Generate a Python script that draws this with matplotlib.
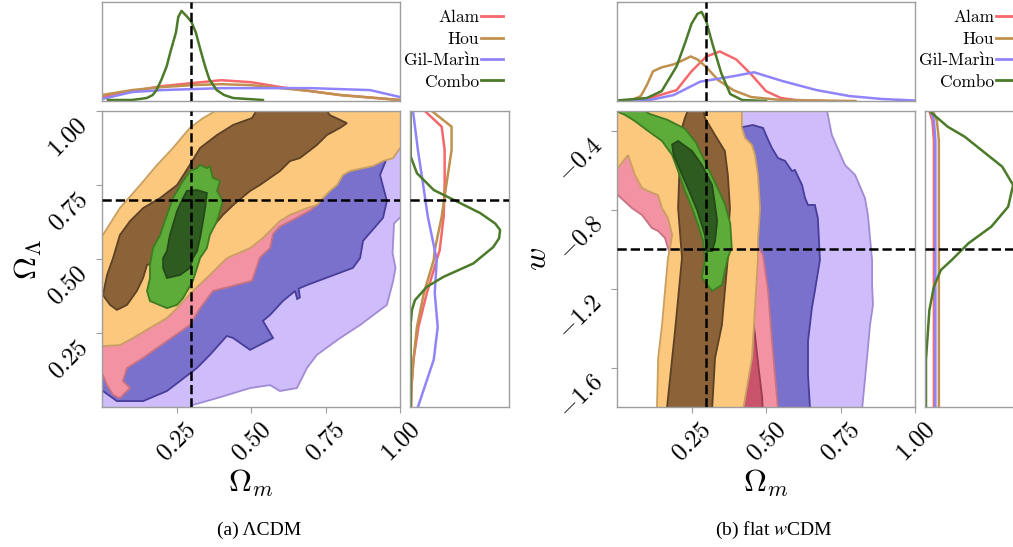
import matplotlib.pyplot as plt
from matplotlib.lines import Line2D
from matplotlib.transforms import ScaledTranslation

plt.rcParams['mathtext.fontset'] = 'cm'

# series order: Alam, Hou, Gil-Marin, Combo
names = ['Alam', 'Hou', 'Gil-Marìn', 'Combo']
line_colors = ['#f5686c', '#c0904f', '#8f84fb', '#4b7a29']
outer_fill = ['#f292a3', '#fbc87d', '#cfbcfa', '#5dab39']
outer_edge = ['#c87282', '#c9a062', '#a18bd6', '#3e7c22']
inner_fill = ['#c9546b', '#8c6239', '#7a71cc', '#2e5b1f']
inner_edge = ['#9b3b4f', '#5d4124', '#473d9b', '#24481a']

# ---------------- (a) LCDM : marginals ----------------
a_top_x = [0.0, 0.1, 0.2, 0.3, 0.4, 0.5, 0.6, 0.7, 0.8, 0.9, 1.0]
a_top_alam = [0.04, 0.10, 0.15, 0.18, 0.21, 0.19, 0.14, 0.10, 0.06, 0.035, 0.01]
a_top_hou = [0.06, 0.11, 0.14, 0.16, 0.17, 0.16, 0.13, 0.10, 0.06, 0.035, 0.01]
a_top_gil = [0.02, 0.09, 0.11, 0.12, 0.13, 0.13, 0.13, 0.13, 0.12, 0.11, 0.04]
a_top_combo_x = [0.02, 0.10, 0.15, 0.17, 0.183, 0.20, 0.217, 0.23, 0.248, 0.256, 0.267,
                 0.286, 0.30, 0.315, 0.33, 0.346, 0.36, 0.385, 0.41, 0.44, 0.54]
a_top_combo = [0.01, 0.01, 0.03, 0.06, 0.11, 0.22, 0.35, 0.50, 0.69, 0.85, 0.91,
               0.85, 0.80, 0.69, 0.52, 0.35, 0.22, 0.11, 0.06, 0.03, 0.01]

a_right_y = [1.0, 0.947, 0.868, 0.757, 0.643, 0.53, 0.497, 0.385, 0.27, 0.16, 0.07, 0.0]
a_right_alam = [0.15, 0.32, 0.35, 0.35, 0.34, 0.30, 0.27, 0.17, 0.085, 0.035, 0.015, 0.01]
a_right_hou = [0.22, 0.42, 0.42, 0.37, 0.32, 0.25, 0.24, 0.14, 0.07, 0.035, 0.015, 0.01]
a_right_gil = [0.03, 0.05, 0.08, 0.13, 0.18, 0.25, 0.27, 0.25, 0.28, 0.24, 0.15, 0.08]
a_right_combo_y = [1.0, 0.846, 0.79, 0.733, 0.70, 0.655, 0.62, 0.598, 0.57, 0.54, 0.485,
                   0.44, 0.406, 0.361, 0.328, 0.28, 0.0]
a_right_combo = [0.005, 0.007, 0.07, 0.24, 0.44, 0.71, 0.86, 0.91, 0.90, 0.84, 0.64,
                 0.34, 0.17, 0.05, 0.02, 0.007, 0.007]

# ---------------- (a) LCDM : contours (Omega_m, Omega_L) ----------------
a_gil_outer = [(1.02, 0.90), (1.02, 0.66), (0.98, 0.62), (0.975, 0.52), (0.985, 0.47),
               (0.977, 0.426), (0.956, 0.345), (0.866, 0.277), (0.799, 0.233), (0.721, 0.176),
               (0.688, 0.132), (0.654, 0.064), (0.597, 0.054), (0.564, 0.074), (0.497, 0.064),
               (0.386, 0.030), (0.305, 0.007), (0.25, -0.05), (-0.05, -0.05), (-0.05, 0.15),
               (0.3, 0.40), (0.6, 0.65)]
a_gil_inner = [(0.956, 0.841), (0.933, 0.784), (0.956, 0.696), (0.943, 0.639), (0.876, 0.561),
               (0.866, 0.503), (0.842, 0.470), (0.688, 0.412), (0.66, 0.40), (0.664, 0.37),
               (0.655, 0.365), (0.648, 0.392), (0.607, 0.358), (0.564, 0.311), (0.540, 0.291),
               (0.574, 0.233), (0.497, 0.193), (0.440, 0.233), (0.419, 0.240), (0.362, 0.176),
               (0.319, 0.132), (0.262, 0.088), (0.218, 0.054), (0.138, 0.020), (0.050, 0.020),
               (0.003, 0.054), (-0.05, 0.08), (-0.05, 0.2), (0.3, 0.45), (0.6, 0.68), (0.9, 0.86)]
a_alam_outer = [(0.74, 0.70), (0.70, 0.665), (0.64, 0.632), (0.597, 0.61), (0.574, 0.585),
                (0.564, 0.537), (0.530, 0.505), (0.503, 0.426), (0.372, 0.392), (0.329, 0.334),
                (0.295, 0.277), (0.218, 0.223), (0.138, 0.166), (0.084, 0.132), (0.070, 0.088),
                (0.094, 0.064), (0.060, 0.030), (0.037, 0.041), (0.017, 0.074), (0.003, 0.108),
                (-0.05, 0.12), (-0.05, 0.35), (0.2, 0.5), (0.5, 0.7), (0.75, 0.78)]
a_hou_outer = [(-0.05, 0.58), (0.003, 0.581), (0.060, 0.672), (0.128, 0.750), (0.185, 0.818),
               (0.238, 0.875), (0.295, 0.943), (0.339, 0.976), (0.38, 1.0), (0.40, 1.05),
               (1.05, 1.05), (1.05, 0.88), (1.0, 0.875), (0.977, 0.841), (0.943, 0.831),
               (0.909, 0.814), (0.876, 0.807), (0.832, 0.797), (0.809, 0.784), (0.789, 0.750),
               (0.765, 0.730), (0.742, 0.706), (0.721, 0.682), (0.688, 0.672), (0.631, 0.649),
               (0.597, 0.628), (0.574, 0.605), (0.540, 0.571), (0.497, 0.537), (0.419, 0.503),
               (0.362, 0.446), (0.305, 0.392), (0.252, 0.334), (0.218, 0.301), (0.161, 0.267),
               (0.104, 0.233), (0.060, 0.209), (0.003, 0.206), (-0.05, 0.2)]
a_hou_inner = [(0.53, 1.02), (0.74, 1.02), (0.765, 0.986), (0.822, 0.959), (0.799, 0.943),
               (0.755, 0.919), (0.721, 0.885), (0.664, 0.841), (0.631, 0.831), (0.597, 0.797),
               (0.564, 0.774), (0.530, 0.750), (0.497, 0.730), (0.440, 0.682), (0.406, 0.649),
               (0.33, 0.56), (0.22, 0.50), (0.151, 0.480), (0.138, 0.436), (0.117, 0.392),
               (0.084, 0.345), (0.050, 0.328), (0.027, 0.345), (0.003, 0.378), (0.017, 0.446),
               (0.037, 0.503), (0.060, 0.581), (0.094, 0.628), (0.138, 0.672), (0.195, 0.706),
               (0.252, 0.750), (0.295, 0.818), (0.329, 0.875), (0.386, 0.919), (0.440, 0.953),
               (0.503, 0.976)]
a_combo_outer = [(0.319, 0.807), (0.329, 0.818), (0.352, 0.807), (0.362, 0.814), (0.372, 0.774),
                 (0.396, 0.764), (0.386, 0.730), (0.406, 0.696), (0.396, 0.662), (0.386, 0.628),
                 (0.362, 0.581), (0.352, 0.537), (0.329, 0.503), (0.319, 0.470), (0.305, 0.426),
                 (0.272, 0.368), (0.252, 0.345), (0.218, 0.334), (0.161, 0.358), (0.151, 0.392),
                 (0.161, 0.436), (0.161, 0.480), (0.171, 0.537), (0.195, 0.581), (0.218, 0.649),
                 (0.238, 0.706), (0.272, 0.764), (0.295, 0.797)]
a_combo_inner = [(0.285, 0.730), (0.319, 0.733), (0.352, 0.723), (0.346, 0.672), (0.339, 0.628),
                 (0.329, 0.571), (0.319, 0.527), (0.305, 0.503), (0.295, 0.470), (0.262, 0.446),
                 (0.218, 0.436), (0.205, 0.470), (0.205, 0.503), (0.218, 0.527), (0.228, 0.581),
                 (0.252, 0.662), (0.272, 0.706)]

# ---------------- (b) flat wCDM : marginals ----------------
b_top_alam_x = [0.0, 0.1, 0.2, 0.25, 0.3, 0.345, 0.4, 0.45, 0.5, 0.55, 0.6, 0.7]
b_top_alam = [0.0, 0.02, 0.11, 0.30, 0.45, 0.50, 0.42, 0.27, 0.10, 0.03, 0.01, 0.0]
b_top_hou_x = [0.0, 0.05, 0.08, 0.10, 0.121, 0.15, 0.19, 0.22, 0.247, 0.27, 0.297,
               0.34, 0.39, 0.45, 0.55, 0.8]
b_top_hou = [0.0, 0.01, 0.05, 0.16, 0.30, 0.34, 0.37, 0.41, 0.45, 0.42, 0.35,
             0.21, 0.11, 0.04, 0.01, 0.0]
b_top_gil_x = [0.0, 0.11, 0.19, 0.279, 0.39, 0.46, 0.557, 0.67, 0.78, 0.89, 1.0]
b_top_gil = [0.0, 0.01, 0.06, 0.195, 0.25, 0.29, 0.20, 0.11, 0.05, 0.02, 0.005]
b_top_combo_x = [0.0, 0.1, 0.15, 0.2, 0.23, 0.25, 0.27, 0.284, 0.3, 0.32, 0.35, 0.38, 0.42, 0.5]
b_top_combo = [0.005, 0.03, 0.10, 0.35, 0.60, 0.78, 0.88, 0.90, 0.80, 0.58, 0.28, 0.07, 0.01, 0.0]

b_right_w = [-0.3, -0.35, -0.45, -1.8]
b_right_alam = [0.045, 0.075, 0.09, 0.09]
b_right_hou = [0.08, 0.12, 0.14, 0.14]
b_right_gil = [0.06, 0.09, 0.105, 0.105]
b_right_combo_w = [-0.3, -0.38, -0.43, -0.498, -0.582, -0.675, -0.785, -0.886, -0.97,
                   -1.055, -1.106, -1.19, -1.31, -1.56, -1.8]
b_right_combo = [0.044, 0.23, 0.40, 0.57, 0.78, 0.89, 0.84, 0.67, 0.44,
                 0.27, 0.16, 0.09, 0.044, 0.01, 0.01]

# ---------------- (b) flat wCDM : contours (Omega_m, w) ----------------
b_gil_outer = [(0.40, -0.25), (0.705, -0.25), (0.705, -0.30), (0.721, -0.422), (0.765, -0.574),
               (0.799, -0.624), (0.832, -0.741), (0.842, -0.827), (0.856, -1.055), (0.856, -1.182),
               (0.859, -1.283), (0.849, -1.385), (0.839, -1.552), (0.826, -1.755), (0.822, -1.815),
               (0.82, -1.9), (0.45, -1.9)]
b_gil_inner = [(0.40, -0.40), (0.423, -0.381), (0.456, -0.371), (0.490, -0.386), (0.503, -0.432),
               (0.520, -0.488), (0.540, -0.538), (0.564, -0.553), (0.587, -0.604), (0.597, -0.599),
               (0.621, -0.675), (0.631, -0.741), (0.641, -0.776), (0.664, -0.776), (0.674, -0.842),
               (0.681, -1.055), (0.664, -1.212), (0.654, -1.298), (0.641, -1.466), (0.641, -1.638),
               (0.648, -1.815), (0.648, -1.9), (0.44, -1.9)]
b_alam_outer = [(-0.05, -0.25), (0.2, -0.25), (0.42, -0.7), (0.47, -0.98), (0.490, -1.030),
                (0.507, -1.212), (0.520, -1.466), (0.540, -1.805), (0.54, -1.9), (0.3, -1.9),
                (0.2, -1.1), (0.171, -0.994), (0.161, -0.944), (0.138, -0.908), (0.117, -0.893),
                (0.084, -0.827), (0.050, -0.792), (0.003, -0.726), (-0.05, -0.70)]
b_alam_inner = [(0.25, -0.8), (0.35, -0.9), (0.44, -1.2), (0.462, -1.42), (0.475, -1.6),
                (0.487, -1.75), (0.492, -1.9), (0.30, -1.9)]
b_hou_outer = [(-0.05, -0.25), (0.419, -0.25), (0.419, -0.386), (0.430, -0.437), (0.453, -0.472),
               (0.463, -0.523), (0.473, -0.624), (0.480, -0.792), (0.473, -0.959), (0.473, -1.045),
               (0.463, -1.298), (0.453, -1.552), (0.423, -1.815), (0.42, -1.9), (0.134, -1.9),
               (0.134, -1.815), (0.138, -1.552), (0.151, -1.385), (0.161, -1.212), (0.171, -1.045),
               (0.178, -0.994), (0.185, -0.928), (0.171, -0.842), (0.151, -0.792), (0.138, -0.726),
               (0.104, -0.705), (0.084, -0.690), (0.060, -0.624), (0.037, -0.523), (0.003, -0.589),
               (-0.05, -0.59)]
b_hou_inner = [(0.228, -0.335), (0.25, -0.25), (0.285, -0.25), (0.295, -0.335), (0.329, -0.422),
               (0.362, -0.503), (0.372, -0.624), (0.379, -0.792), (0.372, -0.959), (0.372, -1.045),
               (0.362, -1.212), (0.352, -1.385), (0.329, -1.552), (0.319, -1.815), (0.319, -1.9),
               (0.168, -1.9), (0.168, -1.800), (0.195, -1.410), (0.218, -1.045), (0.205, -0.792),
               (0.211, -0.538), (0.218, -0.386)]
b_combo_outer = [(-0.05, -0.27), (0.027, -0.320), (0.060, -0.351), (0.104, -0.401), (0.151, -0.452),
                 (0.185, -0.523), (0.205, -0.604), (0.228, -0.705), (0.252, -0.792), (0.272, -0.878),
                 (0.289, -0.959), (0.295, -1.055), (0.285, -1.146), (0.319, -1.212), (0.352, -1.182),
                 (0.362, -1.111), (0.372, -1.045), (0.385, -0.99), (0.38, -0.87), (0.362, -0.77),
                 (0.33, -0.665), (0.298, -0.565), (0.265, -0.46), (0.228, -0.39), (0.17, -0.345),
                 (0.11, -0.315), (0.06, -0.27)]
b_combo_inner = [(0.185, -0.47), (0.205, -0.452), (0.252, -0.503), (0.285, -0.574), (0.319, -0.675),
                 (0.329, -0.776), (0.336, -0.857), (0.329, -0.959), (0.319, -1.010), (0.302, -1.010),
                 (0.295, -0.928), (0.27, -0.807), (0.242, -0.705), (0.213, -0.604), (0.19, -0.523)]

tick_x = [0.25, 0.50, 0.75, 1.00]
tick_x_labels = ['$0.25$', '$0.50$', '$0.75$', '$1.00$']
a_tick_y = [0.25, 0.50, 0.75, 1.00]
a_tick_y_labels = ['$0.25$', '$0.50$', '$0.75$', '$1.00$']
b_tick_y = [-0.4, -0.8, -1.2, -1.6]
b_tick_y_labels = ['$-0.4$', '$-0.8$', '$-1.2$', '$-1.6$']

W, H = 1013, 547
fig = plt.figure(figsize=(W / 100, H / 100), dpi=100)
spine_col = '#9e9e9e'


def add_ax(x0, y0, x1, y1):
    ax = fig.add_axes([x0 / W, 1 - y1 / H, (x1 - x0) / W, (y1 - y0) / H])
    for s in ax.spines.values():
        s.set_color(spine_col)
        s.set_linewidth(1.0)
    return ax


def draw_panel(x0, tops, rights, contours, ylim, yticks, ylabels, ylabel, ylab_x,
               fid, caption, leg_x):
    ax_t = add_ax(x0, 2, x0 + 298, 101)
    ax = add_ax(x0, 111, x0 + 298, 407)
    ax_r = add_ax(x0 + 308, 111, x0 + 407, 407)

    # filled contours, drawing order Gil-Marin, Alam, Hou, Combo
    for i in [2, 0, 1, 3]:
        outer, inner = contours[i]
        xs, ys = zip(*outer)
        ax.fill(xs, ys, facecolor=outer_fill[i], edgecolor=outer_edge[i], lw=1.3)
        if inner is not None:
            xs, ys = zip(*inner)
            ax.fill(xs, ys, facecolor=inner_fill[i], edgecolor=inner_edge[i], lw=1.3)

    for i in [0, 1, 2, 3]:
        xs, ys = tops[i]
        ax_t.plot(xs, ys, color=line_colors[i], lw=1.8)
        vs, ws = rights[i]
        ax_r.plot(vs, ws, color=line_colors[i], lw=1.8)

    for a in (ax_t, ax):
        a.axvline(fid[0], color='k', ls='--', lw=1.8, zorder=5)
    for a in (ax, ax_r):
        a.axhline(fid[1], color='k', ls='--', lw=1.8, zorder=5)

    ax.set_xlim(0, 1)
    ax.set_ylim(*ylim)
    ax_t.set_xlim(0, 1)
    ax_t.set_ylim(0, 1)
    ax_r.set_xlim(0, 1)
    ax_r.set_ylim(*ylim)
    for a in (ax_t, ax_r):
        a.set_xticks([])
        a.set_yticks([])

    ax.set_xticks(tick_x)
    ax.set_xticklabels(tick_x_labels, rotation=45)
    ax.set_yticks(yticks)
    ax.set_yticklabels(ylabels, rotation=45)
    ax.tick_params(direction='out', length=4, color=spine_col, labelsize=18, pad=3)
    shift = ScaledTranslation(0, -0.11, fig.dpi_scale_trans)
    for lab in ax.get_yticklabels():
        lab.set_transform(lab.get_transform() + shift)

    ax.text(0.5, -0.257, r'$\Omega_m$', transform=ax.transAxes, ha='center', va='center',
            fontsize=23)
    ax.text(ylab_x, 0.5, ylabel, transform=ax.transAxes, ha='center', va='center',
            fontsize=23, rotation=90)
    fig.text((x0 + 157) / W, 1 - 530 / H, caption, ha='center', va='center', fontsize=14,
             family='Liberation Serif', math_fontfamily='stix')

    handles = [Line2D([], [], color=c, lw=2) for c in line_colors]
    fig.legend(handles, names, loc='upper right', bbox_to_anchor=(leg_x / W, 1 - 10 / H),
               frameon=False, markerfirst=False,
               prop={'family': ['cmr10', 'DejaVu Serif'], 'size': 12.5},
               handlelength=1.25, handletextpad=0.12, labelspacing=0.35, borderaxespad=0,
               borderpad=0)


draw_panel(102,
           [(a_top_x, a_top_alam), (a_top_x, a_top_hou), (a_top_x, a_top_gil),
            (a_top_combo_x, a_top_combo)],
           [(a_right_alam, a_right_y), (a_right_hou, a_right_y), (a_right_gil, a_right_y),
            (a_right_combo, a_right_combo_y)],
           [(a_alam_outer, None), (a_hou_outer, a_hou_inner), (a_gil_outer, a_gil_inner),
            (a_combo_outer, a_combo_inner)],
           (0, 1), a_tick_y, a_tick_y_labels, r'$\Omega_\Lambda$', -0.248,
           (0.3, 0.7), '(a) ΛCDM', 503)

draw_panel(617,
           [(b_top_alam_x, b_top_alam), (b_top_hou_x, b_top_hou), (b_top_gil_x, b_top_gil),
            (b_top_combo_x, b_top_combo)],
           [(b_right_alam, b_right_w), (b_right_hou, b_right_w), (b_right_gil, b_right_w),
            (b_right_combo, b_right_combo_w)],
           [(b_alam_outer, b_alam_inner), (b_hou_outer, b_hou_inner), (b_gil_outer, b_gil_inner),
            (b_combo_outer, b_combo_inner)],
           (-1.8, -0.3), b_tick_y, b_tick_y_labels, r'$w$', -0.268,
           (0.3, -1.0), r'(b) flat $w$CDM', 1018)

fig.savefig('out.png', dpi=100)
